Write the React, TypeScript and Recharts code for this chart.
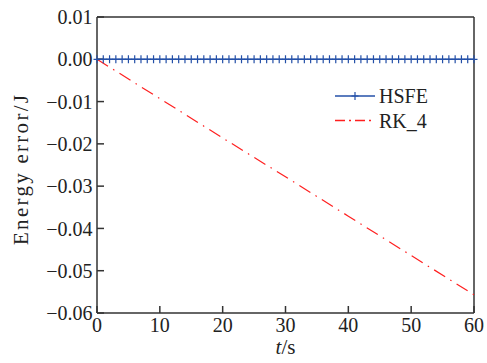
import { LineChart, Line, XAxis, YAxis, Legend, ReferenceLine } from 'recharts';

// HSFE sampled every second, error stays at zero
const HSFE_T = [
  0, 1, 2, 3, 4, 5, 6, 7, 8, 9, 10, 11, 12, 13, 14, 15, 16, 17, 18, 19, 20,
  21, 22, 23, 24, 25, 26, 27, 28, 29, 30, 31, 32, 33, 34, 35, 36, 37, 38, 39, 40,
  41, 42, 43, 44, 45, 46, 47, 48, 49, 50, 51, 52, 53, 54, 55, 56, 57, 58, 59, 60,
];
const HSFE_E = [
  0, 0, 0, 0, 0, 0, 0, 0, 0, 0, 0, 0, 0, 0, 0, 0, 0, 0, 0, 0, 0,
  0, 0, 0, 0, 0, 0, 0, 0, 0, 0, 0, 0, 0, 0, 0, 0, 0, 0, 0, 0,
  0, 0, 0, 0, 0, 0, 0, 0, 0, 0, 0, 0, 0, 0, 0, 0, 0, 0, 0, 0,
];

const RK4_T = [0, 10, 20, 30, 40, 50, 60];
const RK4_E = [0, -0.0093, -0.0186, -0.0278, -0.0371, -0.0464, -0.0557];

const X_TICKS = [0, 10, 20, 30, 40, 50, 60];
const Y_TICKS = [0.01, 0, -0.01, -0.02, -0.03, -0.04, -0.05, -0.06];

const FONT = 'Liberation Serif';
const AXIS = '#333';
const BLUE = '#2450a8';
const RED = '#ff1f1f';
const RK_DASH = '13 6 1.5 6';

const hsfeData = HSFE_T.map((t, i) => ({ t, e: HSFE_E[i] }));
const rkData = RK4_T.map((t, i) => ({ t, e: RK4_E[i] }));

const fmtY = (v: number) => (v < 0 ? '\u2212' + Math.abs(v).toFixed(2) : v.toFixed(2));

const plus = (cx: number, cy: number, color: string, key?: string | number) => (
  <path
    key={key}
    d={`M${cx - 3.5},${cy}H${cx + 3.5}M${cx},${cy - 4}V${cy + 4}`}
    stroke={color}
    strokeWidth={1.2}
    fill="none"
  />
);

const PlusDot = (props: any) => plus(props.cx, props.cy, BLUE, props.index);

const LegendBox = () => (
  <svg width={130} height={50} style={{ overflow: 'visible' }}>
    <line x1={5} y1={14} x2={45} y2={14} stroke={BLUE} strokeWidth={1.3} />
    {plus(25, 14, BLUE)}
    <text x={49} y={21} fontFamily={FONT} fontSize={20} fill="#222">HSFE</text>
    <line x1={5} y1={38.5} x2={45} y2={38.5} stroke={RED} strokeWidth={1.3} strokeDasharray="10 4 2 4" />
    <text x={49} y={45.5} fontFamily={FONT} fontSize={20} fill="#222">RK_4</text>
  </svg>
);

export default function App() {
  return (
    <div style={{ position: 'absolute', left: 0, top: 0, width: 487, height: 363, background: '#fff' }}>
      <LineChart width={487} height={363} margin={{ top: 17, right: 13, bottom: 0, left: 0 }}>
        <XAxis
          dataKey="t"
          type="number"
          domain={[0, 60]}
          ticks={X_TICKS}
          height={50}
          stroke={AXIS}
          strokeWidth={1.5}
          tickSize={-7}
          tickMargin={11.5}
          tick={{ fontFamily: FONT, fontSize: 20, fill: '#222' }}
          allowDuplicatedCategory={false}
          label={{
            content: (p: any) => {
              const vb = p.viewBox;
              return (
                <text x={vb.x + vb.width / 2} y={354} textAnchor="middle" fontFamily={FONT} fontSize={21} fill="#222">
                  <tspan fontStyle="italic">t</tspan>/s
                </text>
              );
            },
          }}
        />
        <YAxis
          dataKey="e"
          type="number"
          domain={[-0.06, 0.01]}
          ticks={Y_TICKS}
          width={97}
          stroke={AXIS}
          strokeWidth={1.5}
          tickSize={-7}
          tickMargin={11.5}
          tickFormatter={fmtY}
          tick={{ fontFamily: FONT, fontSize: 20, fill: '#222' }}
          label={{
            content: () => (
              <text
                x={28}
                y={170}
                transform="rotate(-90, 28, 170)"
                textAnchor="middle"
                fontFamily={FONT}
                fontSize={21}
                fill="#222"
                textLength={150}
                lengthAdjust="spacing"
              >
                Energy error/J
              </text>
            ),
          }}
        />
        <ReferenceLine y={0.01} stroke={AXIS} strokeWidth={1.5} />
        <ReferenceLine x={60} stroke={AXIS} strokeWidth={1.5} />
        <Legend
          layout="horizontal"
          verticalAlign="middle"
          align="center"
          content={() => <LegendBox />}
          wrapperStyle={{ position: 'absolute', left: 330, top: 82, width: 130, height: 50 }}
        />
        <Line
          data={rkData}
          dataKey="e"
          name="RK_4"
          stroke={RED}
          strokeWidth={1.2}
          strokeDasharray={RK_DASH}
          dot={false}
          activeDot={false}
          isAnimationActive={false}
        />
        <Line
          data={hsfeData}
          dataKey="e"
          name="HSFE"
          stroke={BLUE}
          strokeWidth={1.5}
          dot={PlusDot}
          activeDot={false}
          isAnimationActive={false}
        />
      </LineChart>
    </div>
  );
}
